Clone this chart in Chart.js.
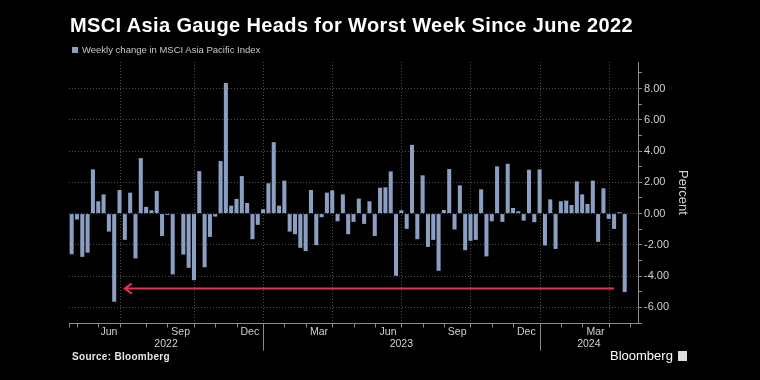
<!DOCTYPE html>
<html>
<head>
<meta charset="utf-8">
<script src="https://cdn.jsdelivr.net/npm/chart.js@4.4.1/dist/chart.umd.min.js"></script>
<style>
  html, body { margin: 0; padding: 0; background: #000; }
  #wrap { position: relative; width: 760px; height: 380px; overflow: hidden; background: #000; font-family: "Liberation Sans", Arial, sans-serif; }
  #chartBox { position: absolute; left: 0; top: 0; width: 760px; height: 380px; }
  .title { position: absolute; left: 70px; top: 15px; color: #fff; font-size: 20px; font-weight: bold; line-height: 1; white-space: nowrap; letter-spacing: 0.38px; }
  .legend { position: absolute; left: 72px; top: 45px; color: #c8c8c8; font-size: 9.5px; line-height: 1; white-space: nowrap; }
  .legend i { display: inline-block; width: 6px; height: 6px; background: #8b9fc2; margin-right: 4px; vertical-align: 0; }
  .source { position: absolute; left: 72px; top: 352px; color: #e6e6e6; font-size: 10px; font-weight: bold; line-height: 1; letter-spacing: 0.3px; }
  .brand { position: absolute; left: 610px; top: 349px; color: #fff; font-size: 13px; line-height: 1; white-space: nowrap; }
  .brand b { display: inline-block; width: 9px; height: 10px; background: #ddd; margin-left: 5px; vertical-align: -1px; }
</style>
</head>
<body>
<div id="wrap">
  <div id="chartBox"><canvas id="weeklyChart"></canvas></div>
  <div class="title">MSCI Asia Gauge Heads for Worst Week Since June 2022</div>
  <div class="legend"><i></i>Weekly change in MSCI Asia Pacific Index</div>
  <div class="source">Source: Bloomberg</div>
  <div class="brand">Bloomberg<b></b></div>
</div>
<script>
// weekly closes, Fridays from 2022-04-22 (two empty weeks pad the axis end)
const firstWeek = '2022-04-22';
const weekCount = 107;

// weekly % change in MSCI Asia Pacific Index
const weeklyChange = [
  -2.60, -0.38, -2.77, -2.50, 2.83, 0.79, 1.23, -1.15, -5.64, 1.51,
  -1.68, 1.34, -2.87, 3.55, 0.43, 0.21, 1.45, -1.43, -0.09, -3.89,
  0.03, -2.62, -3.47, -4.26, 2.72, -3.43, -1.49, -0.19, 3.36, 8.36,
  0.51, 0.94, 2.40, 0.68, -1.64, -0.72, 0.28, 1.94, 4.57, 0.51,
  2.11, -1.15, -1.32, -2.19, -2.40, 1.51, -2.02, -0.23, 1.34, 1.49,
  -0.49, 1.23, -1.32, -0.53, 0.96, -0.66, 0.79, -1.43, 1.66, 1.68,
  2.70, -3.98, 0.21, -0.98, 4.40, -1.64, 2.45, -2.13, -1.68, -3.66,
  0.23, 2.85, -1.02, 1.81, -2.34, -1.74, -1.68, 1.55, -2.74, -0.49,
  3.02, -0.53, 3.19, 0.36, 0.15, -0.45, 2.81, -0.55, 2.83, -2.04,
  0.91, -2.26, 0.79, 0.83, 0.55, 2.06, 1.23, 0.62, 2.11, -1.81,
  1.62, -0.34, -0.98, 0.09, -5.02
];

const monthNames = { 3: 'Mar', 6: 'Jun', 9: 'Sep', 12: 'Dec' };
const yTicks = [-6, -4, -2, 0, 2, 4, 6, 8];

// red arrow: from the latest week back to the June 2022 low
const arrowFrom = 102;
const arrowTo = 10;
const arrowLevel = -4.8;

const weeks = [];
(function () {
    const t0 = Date.parse(firstWeek + 'T00:00:00Z');
    for (let i = 0; i < weekCount; i++) {
        weeks.push(new Date(t0 + i * 7 * 86400000).toISOString().slice(0, 10));
    }
})();

// last week of every month -> tick positions
const monthEnds = [];
weeks.forEach((w, i) => {
    if (i + 1 < weeks.length && weeks[i + 1].slice(5, 7) !== w.slice(5, 7)) {
        monthEnds.push({ index: i, year: +w.slice(0, 4), month: +w.slice(5, 7) });
    }
});

const AXIS = '#8a8a8a';
const GRID = '#4d4d4d';
const TEXT = '#d0d0d0';

const bbgAxis = {
    id: 'bbgAxis',
    beforeDatasetsDraw(chart) {
        const { ctx, chartArea: a, scales: { x } } = chart;
        ctx.save();
        ctx.strokeStyle = GRID;
        ctx.lineWidth = 1;
        ctx.setLineDash([1, 2]);
        monthEnds.filter(m => m.month % 3 === 0).forEach(m => {
            const px = Math.round(x.getPixelForValue(m.index)) + 0.5;
            ctx.beginPath();
            ctx.moveTo(px, a.top);
            ctx.lineTo(px, a.bottom);
            ctx.stroke();
        });
        ctx.restore();
    },
    afterDatasetsDraw(chart) {
        const { ctx, scales: { x, y } } = chart;
        const x0 = x.getPixelForValue(arrowFrom);
        const x1 = x.getPixelForValue(arrowTo);
        const py = y.getPixelForValue(arrowLevel);
        ctx.save();
        ctx.strokeStyle = '#e3344d';
        ctx.lineWidth = 2;
        ctx.beginPath();
        ctx.moveTo(x0, py);
        ctx.lineTo(x1 + 1, py);
        ctx.stroke();
        ctx.beginPath();
        ctx.moveTo(x1 + 7, py - 5);
        ctx.lineTo(x1, py);
        ctx.lineTo(x1 + 7, py + 5);
        ctx.stroke();
        ctx.restore();
    },
    afterDraw(chart) {
        const { ctx, chartArea: a, scales: { x } } = chart;
        const base = Math.round(a.bottom) + 0.5;
        ctx.save();
        ctx.strokeStyle = AXIS;
        ctx.lineWidth = 1;
        ctx.beginPath();
        ctx.moveTo(a.left, base);
        ctx.lineTo(a.right, base);
        ctx.stroke();

        // month ticks
        const edges = [a.left].concat(monthEnds.map(m => x.getPixelForValue(m.index)));
        ctx.beginPath();
        edges.forEach(px => {
            px = Math.round(px) + 0.5;
            ctx.moveTo(px, base);
            ctx.lineTo(px, base + 4);
        });
        ctx.stroke();

        ctx.fillStyle = TEXT;
        ctx.font = '10.5px "Liberation Sans", Arial, sans-serif';
        ctx.textAlign = 'center';
        ctx.textBaseline = 'middle';
        monthEnds.forEach((m, k) => {
            if (!monthNames[m.month]) return;
            const mid = (edges[k] + edges[k + 1]) / 2;
            ctx.fillText(monthNames[m.month], mid, base + 9);
        });

        // year separators and labels
        const decEnds = monthEnds.filter(m => m.month === 12);
        const bounds = [a.left].concat(decEnds.map(m => x.getPixelForValue(m.index)), [a.right]);
        ctx.beginPath();
        decEnds.forEach(m => {
            const px = Math.round(x.getPixelForValue(m.index)) + 0.5;
            ctx.moveTo(px, base);
            ctx.lineTo(px, base + 27);
        });
        ctx.stroke();
        const firstYear = +weeks[0].slice(0, 4);
        for (let k = 0; k < bounds.length - 1; k++) {
            ctx.fillText(String(firstYear + k), (bounds[k] + bounds[k + 1]) / 2, base + 21);
        }
        ctx.restore();
    }
};

new Chart(document.getElementById('weeklyChart'), {
    type: 'bar',
    data: {
        labels: weeks,
        datasets: [{
            label: 'Weekly change in MSCI Asia Pacific Index',
            data: weeklyChange,
            backgroundColor: '#8b9fc2',
            barPercentage: 0.76,
            categoryPercentage: 1
        }]
    },
    options: {
        responsive: true,
        maintainAspectRatio: false,
        animation: false,
        layout: { padding: { left: 69, top: 62, right: 66, bottom: 57 } },
        plugins: { legend: { display: false }, tooltip: { enabled: false } },
        scales: {
            x: { display: false, offset: true },
            y: {
                position: 'right',
                min: -7,
                max: 9.7,
                afterFit: s => { s.width = 56; },
                afterBuildTicks: s => {
                    s.ticks = [];
                    for (let v = -7; v <= 9; v++) s.ticks.push({ value: v });
                },
                ticks: {
                    color: TEXT,
                    padding: 2,
                    font: { family: '"Liberation Sans", Arial, sans-serif', size: 11 },
                    callback: v => yTicks.includes(v) ? v.toFixed(2) : ''
                },
                grid: {
                    color: c => yTicks.includes(c.tick.value) ? GRID : 'transparent',
                    tickColor: AXIS,
                    tickLength: 4,
                    drawOnChartArea: true
                },
                border: { display: true, color: AXIS, dash: [1, 2] },
                title: {
                    display: true,
                    text: 'Percent',
                    color: TEXT,
                    font: { family: '"Liberation Sans", Arial, sans-serif', size: 13 },
                    padding: { top: 4, bottom: 0 }
                }
            }
        }
    },
    plugins: [bbgAxis]
});
</script>
</body>
</html>
